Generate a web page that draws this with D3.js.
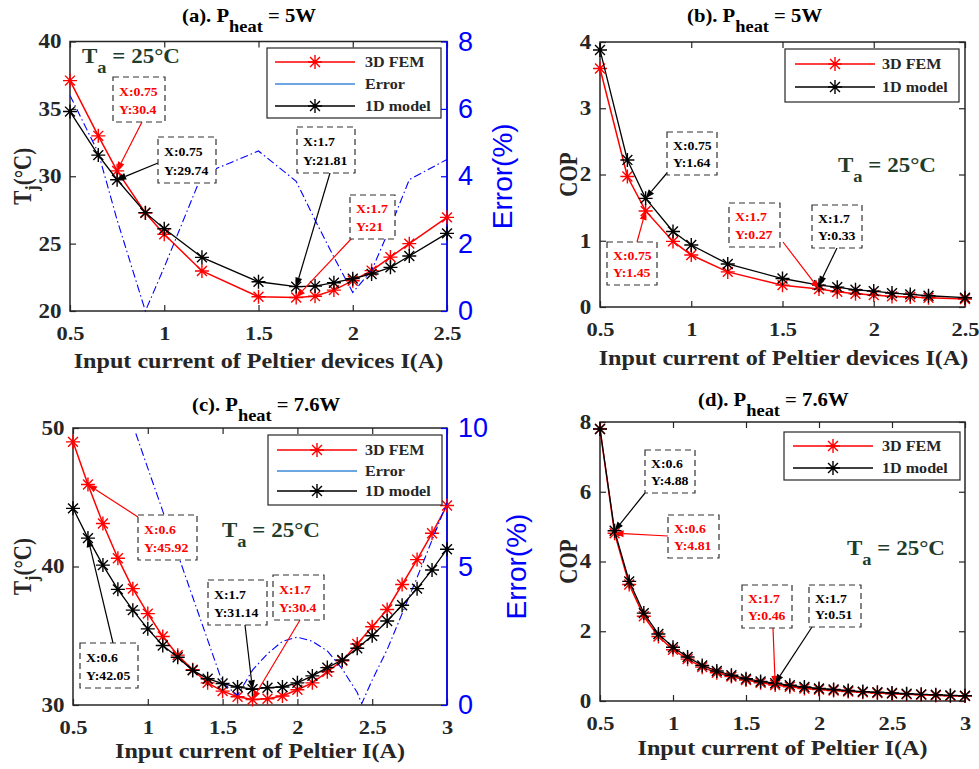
<!DOCTYPE html>
<html><head><meta charset="utf-8">
<script src="https://cdn.jsdelivr.net/npm/d3@7"></script>
<style>body{margin:0;background:#fff}</style>
</head><body>
<svg id="chart" width="979" height="769"></svg>
<script>
// ---------------- DATA ----------------
const xA = [0.5,0.65,0.75,0.9,1.0,1.2,1.5,1.7,1.8,1.9,2.0,2.1,2.2,2.3,2.5];
const tjFemA = [37.1,33.0,30.4,27.27,25.7,22.97,21.06,21.0,21.1,21.55,22.25,23.0,24.0,25.0,26.95];
const tj1dA  = [34.8,31.57,29.74,27.3,26.1,23.98,22.17,21.81,21.85,22.1,22.4,22.75,23.24,24.08,25.76];
const errA   = [6.4,4.7,2.7,0,1.3,4.05,4.75,3.85,2.7,1.6,0.55,1.2,2.5,3.9,4.5];

const xB = [0.5,0.65,0.75,0.9,1.0,1.2,1.5,1.7,1.8,1.9,2.0,2.1,2.2,2.3,2.5];
const copFemB = [3.6,1.97,1.45,0.99,0.785,0.53,0.33,0.27,0.23,0.2,0.18,0.16,0.15,0.14,0.12];
const cop1dB  = [3.88,2.22,1.64,1.14,0.935,0.65,0.43,0.33,0.3,0.26,0.24,0.21,0.19,0.17,0.14];

const xC = [0.5,0.6,0.7,0.8,0.9,1.0,1.1,1.2,1.3,1.4,1.5,1.6,1.7,1.8,1.9,2.0,2.1,2.2,2.3,2.4,2.5,2.6,2.7,2.8,2.9,3.0];
const tjFemC = [49.0,45.92,43.1,40.6,38.4,36.6,34.95,33.6,32.55,31.6,31.0,30.6,30.4,30.45,30.65,31.1,31.6,32.4,33.2,34.4,35.65,36.9,38.7,40.5,42.4,44.4];
const tj1dC  = [44.2,42.05,40.1,38.35,36.85,35.5,34.3,33.45,32.5,31.9,31.55,31.3,31.14,31.25,31.3,31.6,32.1,32.7,33.25,34.1,35.0,36.06,37.2,38.4,39.75,41.25];
const errXC = [0.92,1.0,1.1,1.2,1.3,1.4,1.5,1.6,1.7,1.8,1.9,2.0,2.1,2.2,2.3,2.4,2.43,2.5,2.6,2.7,2.8,2.9,3.0];
const errC  = [9.8,8.55,7.0,5.45,3.9,2.35,0.8,0.35,1.26,1.85,2.3,2.45,2.3,1.95,1.3,0.45,0.05,0.9,2.0,3.3,4.6,5.95,7.3];

const xD = [0.5,0.6,0.7,0.8,0.9,1.0,1.1,1.2,1.3,1.4,1.5,1.6,1.7,1.8,1.9,2.0,2.1,2.2,2.3,2.4,2.5,2.6,2.7,2.8,2.9,3.0];
const copFemD = [7.8,4.81,3.34,2.43,1.85,1.47,1.2,0.97,0.81,0.7,0.6,0.52,0.46,0.41,0.36,0.33,0.3,0.27,0.25,0.23,0.21,0.19,0.18,0.16,0.15,0.14];
const cop1dD  = [7.8,4.88,3.43,2.52,1.92,1.54,1.26,1.02,0.86,0.74,0.64,0.56,0.51,0.45,0.40,0.36,0.33,0.30,0.27,0.25,0.23,0.21,0.19,0.18,0.16,0.15];

const xTicks25 = [0.5,1,1.5,2,2.5];
const xTicks3 = [0.5,1,1.5,2,2.5,3];
const yTicksA = [20,25,30,35,40];
const y2TicksA = [0,2,4,6,8];
const yTicksB = [0,1,2,3,4];
const yTicksC = [30,40,50];
const y2TicksC = [0,5,10];
const yTicksD = [0,2,4,6,8];

// data tips: series ('fem' / '1d'), X, Y
const tipsA = [["fem",0.75,30.4],["1d",0.75,29.74],["1d",1.7,21.81],["fem",1.7,21]];
const tipsB = [["1d",0.75,1.64],["fem",0.75,1.45],["fem",1.7,0.27],["1d",1.7,0.33]];
const tipsC = [["fem",0.6,45.92],["1d",0.6,42.05],["1d",1.7,31.14],["fem",1.7,30.4]];
const tipsD = [["1d",0.6,4.88],["fem",0.6,4.81],["fem",1.7,0.46],["1d",1.7,0.51]];

// ---------------- STYLE / LAYOUT ----------------
const SERIF = "'Liberation Serif','Times New Roman',serif";
const SANS = "'Liberation Sans',Arial,sans-serif";
const SX = 1.15;
const RED = "#ff0000", BLK = "#000000", BLUE = "#0000ff", AX = "#262626", GREEN = "#1f3d2b", LEGBLUE = "#3b8ad9";

const svg = d3.select("#chart");

function star(r){
  const d = r*0.7071;
  return `M${-r},0L${r},0M0,${-r}L0,${r}M${-d},${-d}L${d},${d}M${-d},${d}L${d},${-d}`;
}
function stext(g, x, y, size, str, opt={}){
  const t = g.append("text")
    .attr("transform", `translate(${x},${y}) scale(${SX},1)`)
    .attr("font-family", SERIF).attr("font-weight", "bold")
    .attr("font-size", size).attr("fill", opt.fill||"#000")
    .attr("text-anchor", opt.anchor||"start");
  if (str!==null) t.text(str);
  return t;
}
function arrow(g, x1, y1, x2, y2, color){
  const a = Math.atan2(y2-y1, x2-x1), L = 9, W = 3.5;
  const bx = x2 - L*Math.cos(a), by = y2 - L*Math.sin(a);
  g.append("line").attr("x1",x1).attr("y1",y1).attr("x2",bx).attr("y2",by)
    .attr("stroke",color).attr("stroke-width",1.2);
  g.append("path").attr("d",`M${x2},${y2}L${bx+W*Math.sin(a)},${by-W*Math.cos(a)}L${bx-W*Math.sin(a)},${by+W*Math.cos(a)}Z`)
    .attr("fill",color);
}

function panel(cfg){
  const g = svg.append("g");
  const R = cfg.rect;
  const sx = d3.scaleLinear().domain(cfg.xDomain).range([R.l, R.r]);
  const sy = d3.scaleLinear().domain(cfg.yDomain).range([R.b, R.t]);
  const sy2 = cfg.y2Domain ? d3.scaleLinear().domain(cfg.y2Domain).range([R.b, R.t]) : null;

  // frame
  g.append("rect").attr("x",R.l).attr("y",R.t).attr("width",R.r-R.l).attr("height",R.b-R.t)
    .attr("fill","none").attr("stroke",AX).attr("stroke-width",1.5);

  // axes
  const fmt = d => String(d);
  const gb = g.append("g").attr("transform",`translate(0,${R.b})`)
    .call(d3.axisBottom(sx).tickValues(cfg.xTicks).tickFormat(fmt).tickSizeInner(-6).tickSizeOuter(0).tickPadding(15));
  const gt = g.append("g").attr("transform",`translate(0,${R.t})`)
    .call(d3.axisTop(sx).tickValues(cfg.xTicks).tickFormat("").tickSizeInner(-6).tickSizeOuter(0));
  const gl = g.append("g").attr("transform",`translate(${R.l},0)`)
    .call(d3.axisLeft(sy).tickValues(cfg.yTicks).tickFormat(fmt).tickSizeInner(-6).tickSizeOuter(0).tickPadding(7.5));
  [gb,gt,gl].forEach(a=>{
    a.select(".domain").remove();
    a.selectAll("line").attr("stroke",AX).attr("stroke-width",1.2);
    a.selectAll("text").attr("font-family",SERIF).attr("font-weight","bold").attr("font-size",20)
      .attr("fill",AX).attr("transform",`scale(${SX},1)`);
  });
  gb.selectAll("text").attr("font-size",19.5);
  if (sy2){
    const gr = g.append("g").attr("transform",`translate(${R.r},0)`)
      .call(d3.axisRight(sy2).tickValues(cfg.y2Ticks).tickFormat(fmt).tickSizeInner(-6).tickSizeOuter(0).tickPadding(11));
    gr.select(".domain").remove();
    gr.selectAll("line").attr("stroke",BLUE).attr("stroke-width",1.2);
    gr.selectAll("text").attr("font-family",SANS).attr("font-size",27).attr("fill",BLUE);
    g.append("line").attr("x1",R.r).attr("x2",R.r).attr("y1",R.t).attr("y2",R.b)
      .attr("stroke",BLUE).attr("stroke-width",1.6);
    const ey = (R.t+R.b)/2;
    g.append("text").attr("transform",`translate(${cfg.errLabelX},${ey}) rotate(-90)`)
      .attr("text-anchor","middle").attr("font-family",SANS).attr("font-size",28).attr("fill",BLUE)
      .text("Error(%)");
  } else {
    const gr = g.append("g").attr("transform",`translate(${R.r},0)`)
      .call(d3.axisRight(sy).tickValues(cfg.yTicks).tickFormat("").tickSizeInner(-6).tickSizeOuter(0));
    gr.select(".domain").remove();
    gr.selectAll("line").attr("stroke",AX).attr("stroke-width",1.2);
  }

  // series
  const line = (xs, ys, scaleY) => d3.line().x((d,i)=>sx(xs[i])).y((d,i)=>scaleY(ys[i]))(ys);
  const drawSeries = (xs, ys, color, lw) => {
    g.append("path").attr("d", line(xs, ys, sy)).attr("fill","none").attr("stroke",color).attr("stroke-width",lw);
    g.append("g").selectAll("path").data(ys).join("path")
      .attr("transform",(d,i)=>`translate(${sx(xs[i])},${sy(d)})`)
      .attr("d", star(7)).attr("stroke",color).attr("stroke-width",1.4).attr("fill","none");
  };
  drawSeries(cfg.x, cfg.fem, RED, 1.5);
  if (cfg.err){
    g.append("path").attr("d", line(cfg.errX, cfg.err, sy2)).attr("fill","none")
      .attr("stroke",BLUE).attr("stroke-width",1.1).attr("stroke-dasharray","8,3,1.5,3");
  }
  drawSeries(cfg.x, cfg.m1d, BLK, 1.3);

  // title
  const tt = stext(g, cfg.title.x, cfg.title.y, 18, null);
  tt.append("tspan").text(cfg.title.pre + " P");
  tt.append("tspan").attr("font-size",16).attr("dy",10).text("heat");
  tt.append("tspan").attr("dy",-10).text(" = " + cfg.title.post);

  // x label
  stext(g, (R.l+R.r)/2 + cfg.xlab.dx, cfg.xlab.y, 21, cfg.xlab.text, {anchor:"middle", fill:AX});

  // y label
  const yl = g.append("text")
    .attr("transform",`translate(${cfg.ylab.x},${(R.t+R.b)/2}) rotate(-90) scale(1,${SX})`)
    .attr("text-anchor","middle").attr("font-family",SERIF).attr("font-weight","bold")
    .attr("font-size",21).attr("fill",AX);
  if (cfg.ylab.tj){
    yl.append("tspan").text("T");
    yl.append("tspan").attr("font-size",16).attr("dy",6).text("j");
    yl.append("tspan").attr("dy",-6).text("(°C)");
  } else yl.text("COP");

  // Ta label
  const ta = stext(g, cfg.ta.x, cfg.ta.y, 20, null, {fill:GREEN});
  ta.append("tspan").text("T");
  ta.append("tspan").attr("font-size",16).attr("dy",10).text("a");
  ta.append("tspan").attr("dy",-10).text(" = 25°C");

  // data tips
  cfg.tips.forEach((tp, i) => {
    const [ser, xv, yv] = tp;
    const b = cfg.tipBoxes[i];
    const col = ser === "fem" ? RED : BLK;
    arrow(g, b[4], b[5], sx(xv), sy(yv), col);
    g.append("rect").attr("x",b[0]).attr("y",b[1]).attr("width",b[2]).attr("height",b[3])
      .attr("fill","#fff").attr("stroke","#333").attr("stroke-width",1.2).attr("stroke-dasharray","6,4");
    stext(g, b[0]+6, b[1]+b[3]*0.42, 12, "X:" + xv, {fill:col});
    stext(g, b[0]+6, b[1]+b[3]*0.82, 12, "Y:" + yv, {fill:col});
  });

  // legend
  const L = cfg.legend;
  g.append("rect").attr("x",L.x).attr("y",L.y).attr("width",L.w).attr("height",L.h)
    .attr("fill","#fff").attr("stroke",AX).attr("stroke-width",1.2);
  L.items.forEach((it, i) => {
    const y = L.rows[i];
    g.append("line").attr("x1",L.x1).attr("x2",L.x2).attr("y1",y).attr("y2",y)
      .attr("stroke",it.color).attr("stroke-width",it.lw);
    if (it.marker) g.append("path").attr("transform",`translate(${(L.x1+L.x2)/2},${y})`)
      .attr("d",star(7)).attr("stroke",it.color).attr("stroke-width",1.4).attr("fill","none");
    stext(g, L.tx, y+5, 14, it.label, {fill:AX});
  });
}

const legend3 = [{label:"3D FEM",color:RED,lw:1.5,marker:true},{label:"Error",color:LEGBLUE,lw:1.3,marker:false},{label:"1D model",color:BLK,lw:1.3,marker:true}];
const legend2 = [{label:"3D FEM",color:RED,lw:1.5,marker:true},{label:"1D model",color:BLK,lw:1.3,marker:true}];

panel({
  rect:{l:70,r:447,t:41.5,b:311}, xDomain:[0.5,2.5], xTicks:xTicks25, yDomain:[20,40], yTicks:yTicksA,
  y2Domain:[0,8], y2Ticks:y2TicksA, errLabelX:512,
  x:xA, fem:tjFemA, m1d:tj1dA, errX:xA, err:errA,
  title:{x:182,y:22,pre:"(a).",post:"5W"},
  xlab:{text:"Input current of Peltier devices I(A)", y:368, dx:0},
  ylab:{x:31, tj:true},
  ta:{x:82,y:63},
  tips:tipsA, tipBoxes:[[113,77,52,45,142,122],[158,137,58,46,158,163],[297,127,58,46,330,173],[350,195,45,44,352,238]],
  legend:{x:267,y:48,w:174,h:70,rows:[62,84,106],x1:275,x2:355,tx:365,items:legend3}
});
panel({
  rect:{l:600,r:965,t:42,b:307}, xDomain:[0.5,2.5], xTicks:xTicks25, yDomain:[0,4], yTicks:yTicksB,
  x:xB, fem:copFemB, m1d:cop1dB,
  title:{x:687,y:22,pre:"(b).",post:"5W"},
  xlab:{text:"Input current of Peltier devices I(A)", y:365, dx:1},
  ylab:{x:577, tj:false},
  ta:{x:838,y:172},
  tips:tipsB, tipBoxes:[[667,132,50,43,667,173],[607,242,50,43,637,242],[729,203,51,44,783,242],[812,205,50,43,837,248]],
  legend:{x:785,y:49,w:174,h:53,rows:[64,87],x1:795,x2:875,tx:882,items:legend2}
});
panel({
  rect:{l:73,r:447,t:428,b:705}, xDomain:[0.5,3], xTicks:xTicks3, yDomain:[30,50], yTicks:yTicksC,
  y2Domain:[0,10], y2Ticks:y2TicksC, errLabelX:526,
  x:xC, fem:tjFemC, m1d:tj1dC, errX:errXC, err:errC,
  title:{x:192,y:411,pre:"(c).",post:"7.6W"},
  xlab:{text:"Input current of Peltier I(A)", y:758, dx:0},
  ylab:{x:31, tj:true},
  ta:{x:222,y:537},
  tips:tipsC, tipBoxes:[[138,515,59,45,138,517],[80,643,58,45,113,643],[208,580,59,45,245,625],[273,575,51,45,300,620]],
  legend:{x:268,y:435,w:174,h:70,rows:[450,471,491],x1:277,x2:357,tx:365,items:legend3}
});
panel({
  rect:{l:600,r:965,t:422,b:701}, xDomain:[0.5,3], xTicks:xTicks3, yDomain:[0,8], yTicks:yTicksD,
  x:xD, fem:copFemD, m1d:cop1dD,
  title:{x:698,y:406,pre:"(d).",post:"7.6W"},
  xlab:{text:"Input current of Peltier I(A)", y:755, dx:0},
  ylab:{x:577, tj:false},
  ta:{x:847,y:555},
  tips:tipsD, tipBoxes:[[645,450,50,43,645,493],[668,515,51,43,668,536],[742,585,50,43,773,628],[809,585,52,42,812,627]],
  legend:{x:784,y:432,w:176,h:48,rows:[446,468],x1:793,x2:873,tx:882,items:legend2}
});
</script>
</body></html>
